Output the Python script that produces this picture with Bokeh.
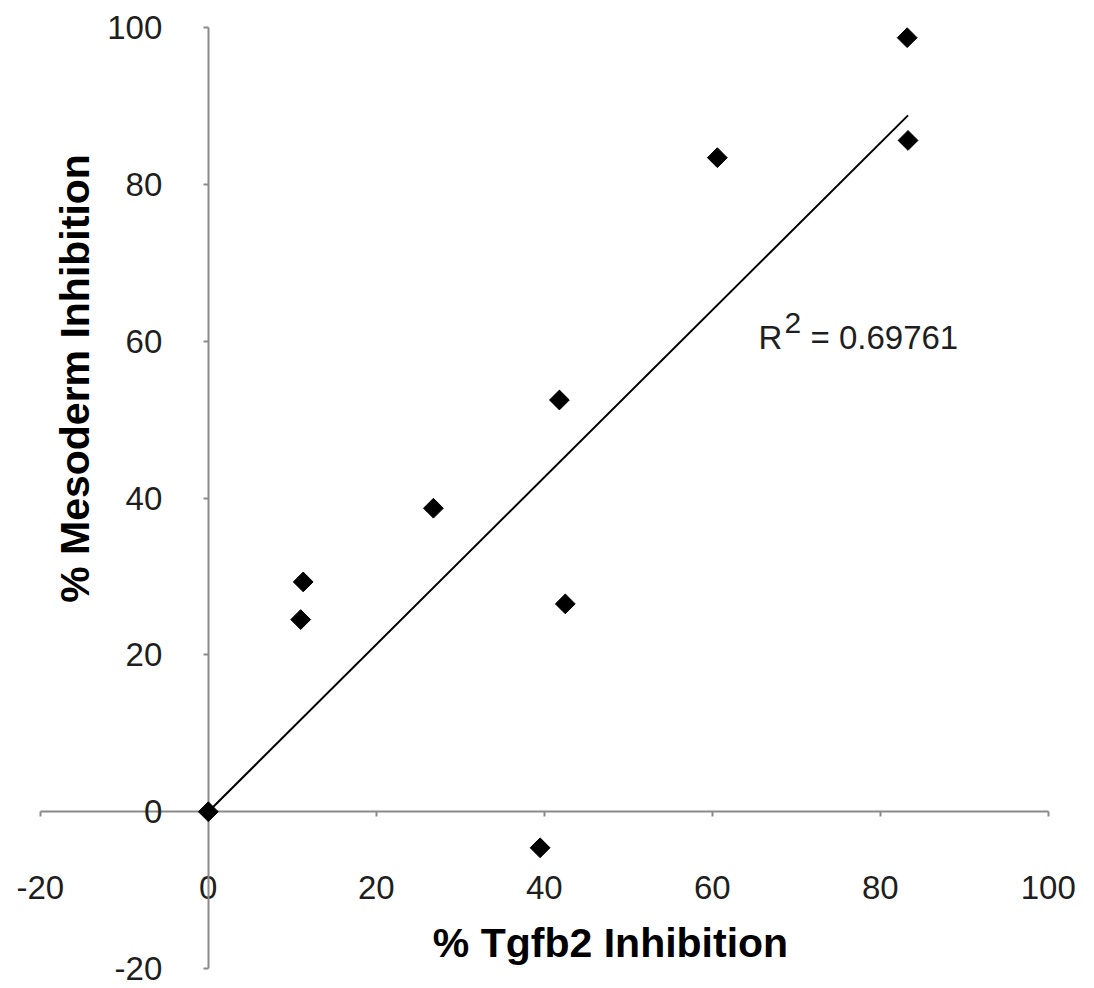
import numpy as np
from bokeh.plotting import figure
from bokeh.models import Range1d, LinearAxis, FixedTicker, Label
from bokeh.embed import file_html
from bokeh.resources import INLINE

# ---- data ----
tgfb2 = [0.0, 11.0, 11.3, 26.8, 39.5, 41.8, 42.5, 60.6, 83.2, 83.3]
mesoderm = [0.0, 24.5, 29.3, 38.7, -4.6, 52.5, 26.5, 83.4, 98.7, 85.6]
x_ticks = [-20, 0, 20, 40, 60, 80, 100]
y_ticks = [-20, 0, 20, 40, 60, 80, 100]
r2_value = "0.69761"
x_title = "% Tgfb2 Inhibition"
y_title = "% Mesoderm Inhibition"

# linear trendline through the origin (least squares)
xa_arr = np.array(tgfb2)
ya_arr = np.array(mesoderm)
slope = float((xa_arr * ya_arr).sum() / (xa_arr * xa_arr).sum())
trend_x = [0.0, float(xa_arr.max())]
trend_y = [slope * v for v in trend_x]

FONT = "Liberation Sans"
AXIS_COLOR = "#8a8a8a"
TEXT_COLOR = "#1e1e1e"

# frame geometry (pixels) -> padded ranges so tick labels are not clipped
FRAME_W, FRAME_H = 1080, 984
PX_PER_X = 8.4
PX_PER_Y = 7.842
x_start = -24.5
x_end = x_start + FRAME_W / PX_PER_X
y_end = 100 + 25 / PX_PER_Y
y_start = y_end - FRAME_H / PX_PER_Y

p = figure(width=FRAME_W + 2, height=FRAME_H + 4,
           x_range=Range1d(x_start, x_end), y_range=Range1d(y_start, y_end),
           x_axis_location=None, y_axis_location=None,
           toolbar_location=None, output_backend="svg",
           min_border_left=2, min_border_right=0,
           min_border_top=2, min_border_bottom=2)
p.outline_line_color = None
p.background_fill_color = "white"
p.border_fill_color = "white"
p.xgrid.visible = False
p.ygrid.visible = False

def style_axis(ax, standoff, ticks):
    ax.axis_line_color = AXIS_COLOR
    ax.axis_line_width = 2
    ax.major_tick_line_color = AXIS_COLOR
    ax.major_tick_line_width = 2
    ax.major_tick_in = 0
    ax.major_tick_out = 5
    ax.minor_tick_line_color = None
    ax.major_label_text_font = FONT
    ax.major_label_text_font_size = "33px"
    ax.major_label_text_color = TEXT_COLOR
    ax.major_label_standoff = standoff
    # plain hyphen-minus, as in the reference
    ax.major_label_overrides = {t: str(t) for t in ticks}

xaxis = LinearAxis(fixed_location=0, ticker=FixedTicker(ticks=x_ticks),
                   bounds=(x_ticks[0], x_ticks[-1]))
style_axis(xaxis, 59, x_ticks)
p.add_layout(xaxis, "below")

yaxis = LinearAxis(fixed_location=0, ticker=FixedTicker(ticks=y_ticks),
                   bounds=(y_ticks[0], y_ticks[-1]))
style_axis(yaxis, 41, y_ticks)
p.add_layout(yaxis, "left")

tl = p.line(trend_x, trend_y, line_color="black", line_width=2)
tl.level = "overlay"
sc = p.scatter(tgfb2, mesoderm, marker="square", size=14, angle=np.pi / 4,
               fill_color="black", line_color="black")
sc.level = "overlay"

# axis titles (screen units are relative to the frame's bottom-left)
p.add_layout(Label(x=608, y=44, x_units="screen", y_units="screen",
                   text=x_title, text_align="center", text_baseline="middle",
                   text_font=FONT, text_font_size="41px", text_font_style="bold",
                   text_color="black"))
p.add_layout(Label(x=72, y=608, x_units="screen", y_units="screen",
                   text=y_title, angle=np.pi / 2,
                   text_align="center", text_baseline="middle",
                   text_font=FONT, text_font_size="41px", text_font_style="bold",
                   text_color="black"))

# R^2 annotation
p.add_layout(Label(x=756, y=649, x_units="screen", y_units="screen",
                   text="R", text_align="left", text_baseline="alphabetic",
                   text_font=FONT, text_font_size="33px", text_color=TEXT_COLOR))
p.add_layout(Label(x=782, y=664, x_units="screen", y_units="screen",
                   text="2", text_align="left", text_baseline="alphabetic",
                   text_font=FONT, text_font_size="30px", text_color=TEXT_COLOR))
p.add_layout(Label(x=808, y=649, x_units="screen", y_units="screen",
                   text="= " + r2_value, text_align="left", text_baseline="alphabetic",
                   text_font=FONT, text_font_size="33px", text_color=TEXT_COLOR))

open("out.html", "w").write(file_html(p, INLINE))
